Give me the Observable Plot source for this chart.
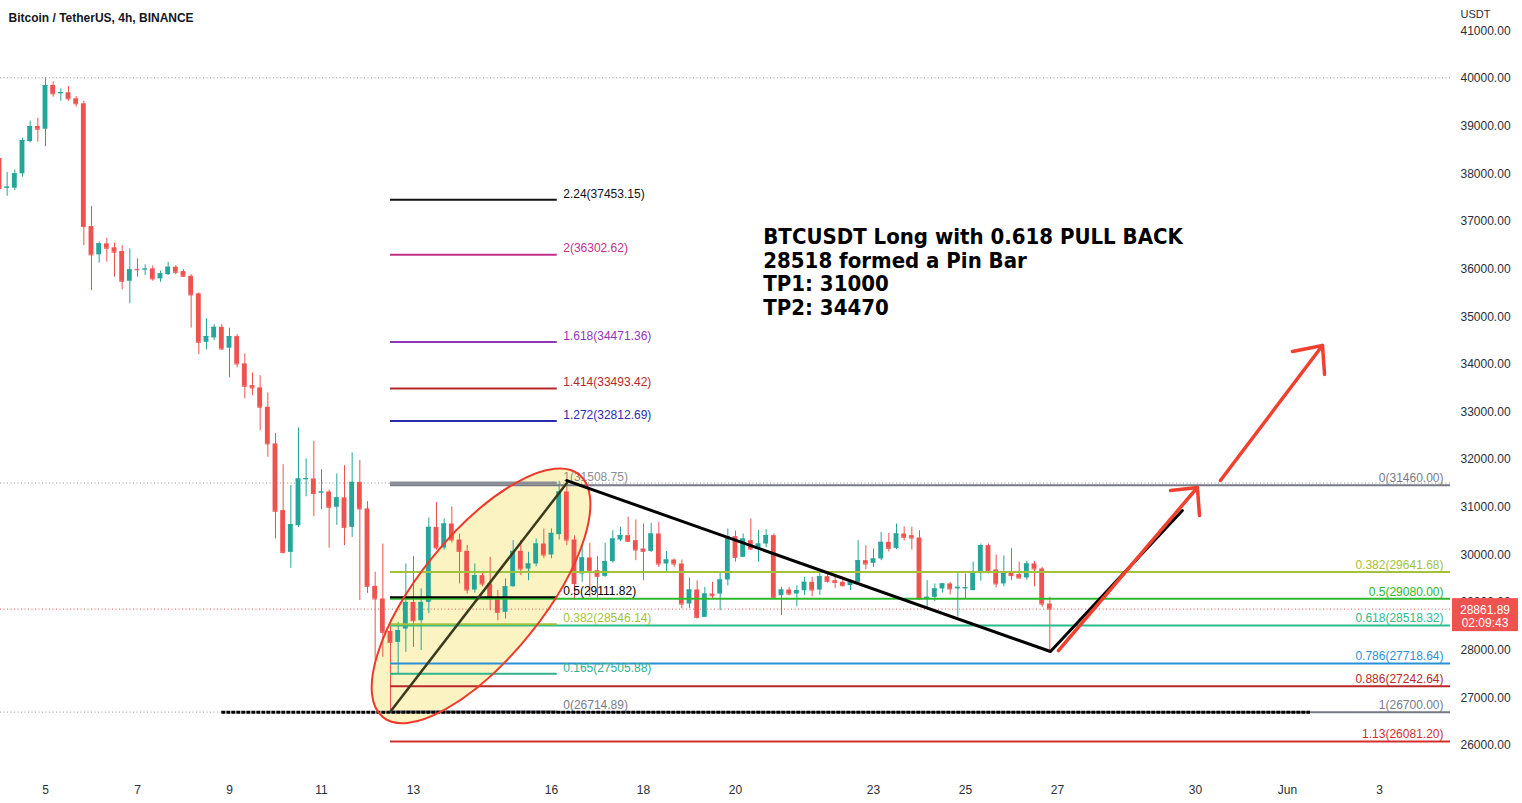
<!DOCTYPE html>
<html><head><meta charset="utf-8">
<script src="https://cdn.jsdelivr.net/npm/d3@7"></script>
<script src="https://cdn.jsdelivr.net/npm/@observablehq/plot@0.6"></script>
<style>html,body{margin:0;padding:0;background:#fff;}</style>
</head><body><div id="chart"></div>
<script>
// ---- Data: 4h candles (BTCUSDT, Binance), first candle 2022-05-04 00:00 UTC ----
const firstCandle = "2022-05-04T00:00:00Z";
const candleOpen = [
  38320,37700,37697,37999,38677,38992, 38935,39853,39679,39700,39574,39469,
  36892,36298,36529,36446,36367,35744, 35995,35985,36004,35794,35884,36038,
  35947,35848,35480,34463,34555,34777, 34338,34582,34009,33553,33505,33100,
  32330,30930,30053,30614,31580,31593, 31300,31320,31000,31197,30578,31523,
  30965,29340,29075,28395,28164,28445, 29003,28620,29003,30578,30145,30649,
  30313,30075,29263,29564,29390,29075, 28794,29332,30075,29704,29809,30229,
  29998,30425,31320,30313,29600,29936, 29670,29550,29858,30313,30404,30299,
  30124,30075,30439,29809,29893,29809, 28969,29263,28689,29179,29179,29473,
  30382,29948,30299,30124,30229,30404, 29144,29263,29179,29248,29425,29263,
  29542,29458,29425,29354,29425,29880, 29823,29915,30264,30138,30439,30404,
  30355,29075,29110,29286,29391,29286, 29290,29250,29635,30194,29684,29391,
  29614,29586,29516,29810,29705,28969];
const candleHigh = [
  38420,38026,38083,38746,39104,39166, 40015,39931,39784,39832,39622,39523,
  37312,36562,36647,36542,36493,36424, 36215,36090,36067,35954,36143,36073,
  35983,35880,35500,34954,34834,34834, 34757,34624,34218,33820,33763,33400,
  32550,31894,31453,32665,32014,32386, 31790,31360,31700,31873,32140,31980,
  31118,29637,30229,28633,28585,29810, 29966,29290,30775,31097,30754,31010,
  30439,30200,29810,29620,29950,29252, 29497,30301,30301,30054,30334,30544,
  30544,31545,31505,30400,30194,30243, 29966,30243,30509,30580,30790,30734,
  30649,30663,30684,30075,29915,29893, 29514,29458,29320,29425,29640,30544,
  30500,30440,30755,30509,30530,30440, 29320,29320,29350,29530,29530,29620,
  29640,29530,29530,29460,30299,30194, 30123,30474,30450,30649,30590,30580,
  30509,29460,29390,29400,29420,29634, 29600,29850,30229,30229,30000,29980,
  30130,29846,29868,29860,29740,29110];
const candleLow = [
  37600,37528,37648,37927,38650,38663, 38572,39607,39523,39523,39397,36493,
  35548,36122,36143,35829,35564,35270, 35829,35863,35744,35723,35863,35878,
  35830,34760,34204,34303,34498,34288, 33715,33925,33274,33343,32608,32050,
  30334,30019,29717,30580,31222,30802, 30948,30140,30620,30194,30368,29042,
  29192,27778,27850,26700,27500,27956, 28060,27993,28766,30100,30100,30250,
  29390,29180,29200,29330,28828,28620, 28654,29320,29564,29458,29750,29930,
  29920,30313,30194,29050,29425,29110, 29090,29530,29830,30280,30270,29880,
  29458,30050,29735,29650,29740,28871, 28871,28654,28689,29070,28828,29350,
  29850,29948,30090,29848,30150,29075, 28724,29140,28912,29150,29120,29150,
  29410,29300,29330,29250,29380,29690, 29740,29880,30060,30110,30290,30100,
  29040,28871,29020,29200,29160,28692, 29075,29250,29450,29600,29306,29330,
  29460,29490,29470,29330,28900,27976];
const candleClose = [
  37690,37720,37999,38698,38992,38935, 39853,39679,39706,39574,39469,36892,
  36298,36529,36437,36354,35744,35983, 35985,36000,35794,35899,36038,35933,
  35848,35458,34463,34582,34777,34323, 34582,34009,33540,33505,33100,32330,
  30916,30053,30635,31593,31600,31290, 31320,31000,31197,30578,31523,30965,
  29340,29075,28375,28164,28410,29003, 28620,29003,30578,30145,30649,30313,
  30075,29263,29564,29390,29075,28794, 29332,30075,29704,29809,30229,29998,
  30452,31320,30313,29400,29936,29656, 29550,29858,30334,30404,30285,30103,
  30075,30439,29809,29893,29809,28969, 29263,28689,29179,29144,29473,30382,
  29948,30334,30124,30229,30404,29110, 29263,29179,29248,29425,29263,29542,
  29445,29425,29354,29425,29880,29809, 29915,30264,30138,30439,30369,30355,
  29075,29110,29286,29391,29286,29320, 29310,29635,30194,29670,29391,29635,
  29566,29516,29810,29705,28969,28862];

// axis ticks
const yTicks = [26000,27000,28000,29000,30000,31000,32000,33000,34000,35000,36000,37000,38000,39000,40000,41000];
const xTickDates = ["2022-05-05","2022-05-07","2022-05-09","2022-05-11","2022-05-13","2022-05-16","2022-05-18",
  "2022-05-20","2022-05-23","2022-05-25","2022-05-27","2022-05-30","2022-06-01","2022-06-03"];
const xTickLabels = ["5","7","9","11","13","16","18","20","23","25","27","30","Jun","3"];

// Fibonacci tool 1 (extension from the May 12 low to the May 16 high)
const leftFibLevels = [0, 0.165, 0.382, 0.5, 1, 1.272, 1.414, 1.618, 2, 2.24];
const leftFibPrices = [26714.89, 27505.88, 28546.14, 29111.82, 31508.75, 32812.69, 33493.42, 34471.36, 36302.62, 37453.15];
const leftFibColors = ["#787b86","#2fb38e","#a3c23a","#000000","#8a8d96","#2a2ab2","#b8282a","#9236b8","#c2308a","#111111"];
// Fibonacci tool 2 (retracement, extended right)
const rightFibLevels = [0, 0.382, 0.5, 0.618, 0.786, 0.886, 1, 1.13];
const rightFibPrices = [31460.00, 29641.68, 29080.00, 28518.32, 27718.64, 27242.64, 26700.00, 26081.20];
const rightFibColors = ["#787b86","#a3c23a","#2eb82e","#2bbb8c","#2b8fd6","#b8282a","#787b86","#d32f2f"];

// horizontal price lines
const dottedGrayPrices = [40015, 31508.75, 26700];
const lastPrice = 28861.89;
const countdown = "02:09:43";

// drawings (time, price)
const trendTimes = ["2022-05-16T08:00:00Z","2022-05-26T20:20:00Z","2022-05-29T17:10:00Z"];
const trendPrices = [31560, 27972, 30932];
const fibLineTimes = ["2022-05-12T12:00:00Z","2022-05-16T08:00:00Z"];
const fibLinePrices = [26714.89, 31508.75];
const arrowGroup = ["a1","a1","h1","h1","h1","a2","a2","h2","h2","h2"];
const arrowTimes = ["2022-05-27T00:30:00Z","2022-05-30T01:00:00Z",
  "2022-05-29T11:00:00Z","2022-05-30T01:00:00Z","2022-05-30T02:05:00Z",
  "2022-05-30T13:00:00Z","2022-06-01T18:15:00Z",
  "2022-06-01T02:35:00Z","2022-06-01T18:15:00Z","2022-06-01T19:20:00Z"];
const arrowPrices = [27993,31415, 31352,31415,30827, 31562,34395, 34270,34395,33787];
const supportLineTimes = ["2022-05-08T20:00:00Z","2022-06-01T12:00:00Z"];
const supportLinePrice = 26700;
const ellipseCenterTime = "2022-05-14T11:30:00Z";
const ellipseCenterPrice = 29130;
const leftFibStart = "2022-05-12T12:00:00Z", leftFibEnd = "2022-05-16T03:00:00Z";
const noteTime = "2022-05-20T14:30:00Z", notePrice = 36885;
const noteText = "BTCUSDT Long with 0.618 PULL BACK\n28518 formed a Pin Bar\nTP1: 31000\nTP2: 34470";

// ---- build ----
const UP = "#26a69a", DOWN = "#ef5350";
const H = 3600e3;
const t0 = new Date(firstCandle);
const candles = candleOpen.map((o, i) => ({
  t: new Date(+t0 + i * 4 * H), open: o, high: candleHigh[i], low: candleLow[i], close: candleClose[i]
}));
const cColor = d => d.close >= d.open ? UP : DOWN;
const leftFib = leftFibLevels.map((l, i) => ({level: l, price: leftFibPrices[i], color: leftFibColors[i],
  label: `${l}(${leftFibPrices[i].toFixed(2)})`}));
const rightFib = rightFibLevels.map((l, i) => ({level: l, price: rightFibPrices[i], color: rightFibColors[i],
  label: `${l}(${rightFibPrices[i].toFixed(2)})`}));
const trend = trendTimes.map((t, i) => ({t: new Date(t), p: trendPrices[i]}));
const fibLine = fibLineTimes.map((t, i) => ({t: new Date(t), p: fibLinePrices[i]}));
const arrows = arrowTimes.map((t, i) => ({t: new Date(t), p: arrowPrices[i], g: arrowGroup[i]}));
const tickMap = new Map(xTickDates.map((d, i) => [+new Date(d + "T00:00:00Z"), xTickLabels[i]]));

const day = 24 * H;
const anchor = Date.UTC(2022, 4, 5);
const xDomain = [new Date(anchor - 45 / 46 * day), new Date(anchor + 1405 / 46 * day)];

const ellipse = {rx: 156, ry: 62, angle: -51};
const ellipseMark = (part) => (index, scales) => {
  const cx = scales.x(new Date(ellipseCenterTime)), cy = scales.y(ellipseCenterPrice);
  const g = d3.create("svg:g");
  g.append("ellipse").attr("cx", cx).attr("cy", cy).attr("rx", ellipse.rx).attr("ry", ellipse.ry)
    .attr("transform", `rotate(${ellipse.angle} ${cx} ${cy})`)
    .attr("fill", part === "fill" ? "#fcf3c2" : "none")
    .attr("stroke", part === "fill" ? "none" : "#ee3a2c")
    .attr("stroke-width", 2);
  return g.node();
};
const priceBox = (index, scales, values, dimensions) => {
  const y = scales.y(lastPrice);
  const x = dimensions.width - dimensions.marginRight + 2;
  const g = d3.create("svg:g");
  g.append("rect").attr("x", x).attr("y", y - 10.5).attr("width", 66).attr("height", 33).attr("fill", "#ef5350");
  g.append("text").attr("x", x + 33).attr("y", y + 1).attr("text-anchor", "middle").attr("dy", "0.35em")
    .attr("fill", "#fff").attr("font-size", 12).text(lastPrice.toFixed(2));
  g.append("text").attr("x", x + 33).attr("y", y + 14).attr("text-anchor", "middle").attr("dy", "0.35em")
    .attr("fill", "#fff").attr("font-size", 12).text(countdown);
  return g.node();
};

const chart = Plot.plot({
  width: 1522, height: 803,
  marginLeft: 0, marginRight: 72, marginTop: 0, marginBottom: 33,
  style: {background: "#fff", fontFamily: "'Liberation Sans', Arial, sans-serif", fontSize: "12px", color: "#2a2e39"},
  color: {type: "identity"},
  x: {type: "utc", domain: xDomain, ticks: xTickDates.map(d => new Date(d + "T00:00:00Z")),
      tickFormat: d => tickMap.get(+d), tickSize: 0, tickPadding: 15, label: null},
  y: {domain: [25475, 41637], axis: "right", ticks: yTicks, tickFormat: d3.format(".2f"),
      tickSize: 0, tickPadding: 10, label: null},
  marks: [
    ellipseMark("fill"),
    Plot.ruleY(dottedGrayPrices, {stroke: "#9598a1", strokeDasharray: "1,2.5"}),
    Plot.ruleY([lastPrice], {stroke: "#ef5350", strokeDasharray: "1,2.5"}),
    // candles
    Plot.ruleX(candles, {x: "t", y1: "low", y2: "high", stroke: cColor, strokeWidth: 1, clip: true}),
    Plot.rect(candles, {x1: d => new Date(+d.t - 2 * H), x2: d => new Date(+d.t + 2 * H), y1: "open", y2: "close",
      fill: cColor, insetLeft: 1.4, insetRight: 1.4, clip: true}),
    Plot.ruleY(candles, {y: "close", x1: d => new Date(+d.t - 2 * H), x2: d => new Date(+d.t + 2 * H),
      stroke: cColor, insetLeft: 1.4, insetRight: 1.4, clip: true}),
    // right fib (extended to the right)
    Plot.ruleY(rightFib, {y: "price", x1: new Date(leftFibStart), x2: xDomain[1], stroke: "color", strokeWidth: 2}),
    Plot.text(rightFib, {y: "price", frameAnchor: "right", dx: -7, dy: -7, textAnchor: "end", text: "label", fill: "color", fontSize: 12}),
    // left fib
    Plot.ruleY(leftFib, {y: "price", x1: new Date(leftFibStart), x2: new Date(leftFibEnd), stroke: "color",
      strokeWidth: d => d.level === 1 ? 3 : 2}),
    Plot.text(leftFib, {y: "price", x: new Date(leftFibEnd), dx: 6, dy: -6, textAnchor: "start", text: "label", fill: "color", fontSize: 12}),
    // support line
    Plot.ruleY([supportLinePrice], {x1: new Date(supportLineTimes[0]), x2: new Date(supportLineTimes[1]),
      stroke: "#000", strokeWidth: 3, strokeDasharray: "4,1"}),
    ellipseMark("stroke"),
    Plot.line(fibLine, {x: "t", y: "p", stroke: "#3a3a1c", strokeWidth: 2.5}),
    Plot.line(trend, {x: "t", y: "p", stroke: "#000", strokeWidth: 3}),
    Plot.line(arrows, {x: "t", y: "p", z: "g", stroke: "#f0402f", strokeWidth: 3.5, strokeLinecap: "round", strokeLinejoin: "round"}),
    // texts
    Plot.text([noteText], {x: () => new Date(noteTime), y: () => notePrice, text: d => d, textAnchor: "start",
      lineAnchor: "top", lineHeight: 1.08, fontSize: 22, fontWeight: "bold",
      fontFamily: "'DejaVu Sans Condensed', 'DejaVu Sans', sans-serif", fill: "#000"}),
    Plot.text(["Bitcoin / TetherUS, 4h, BINANCE"], {frameAnchor: "top-left", dx: 8, dy: 13, textAnchor: "start",
      fontWeight: "bold", fontSize: 12, fill: "#131722"}),
    Plot.text(["USDT"], {frameAnchor: "top-right", dx: 10, dy: 10, textAnchor: "start", fontSize: 11, fill: "#2a2e39"}),
    priceBox
  ]
});
document.getElementById("chart").append(chart);
</script>
</body></html>
